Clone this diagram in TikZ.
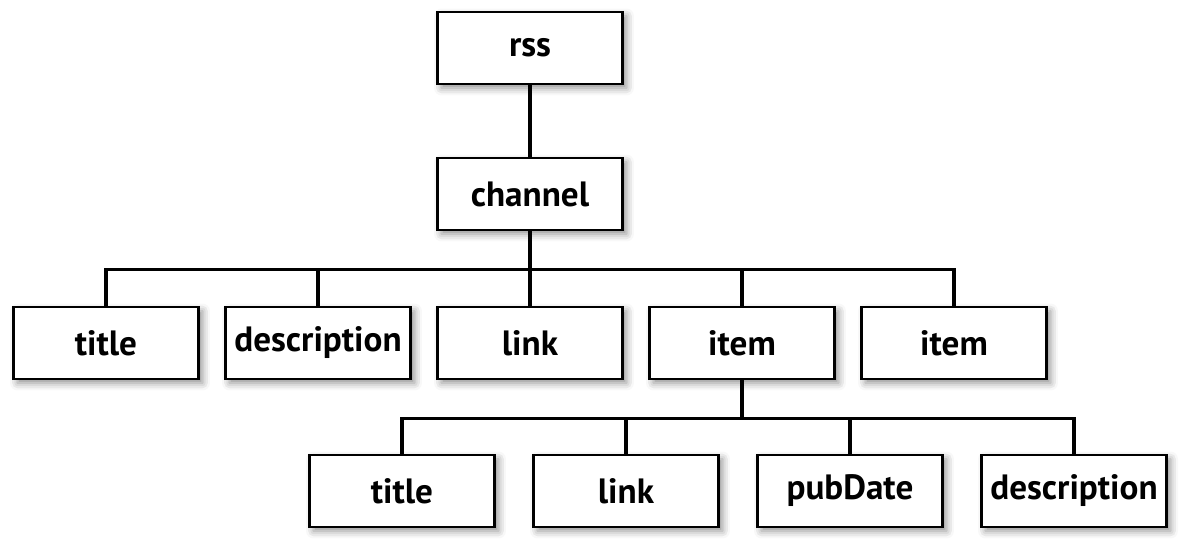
\documentclass[tikz,border=0pt]{standalone}
\usepackage{fontspec}
\setmainfont{PT Sans}
\usetikzlibrary{shadows.blur}

\tikzset{
  box/.style={draw, line width=1.6pt, fill=white, minimum width=3.7cm, minimum height=1.44cm,
    inner sep=0pt, font=\fontsize{20}{24}\selectfont\bfseries,
    blur shadow={shadow xshift=0.08cm, shadow yshift=-0.08cm, shadow blur radius=0.15cm, shadow opacity=45}},
  link/.style={line width=1.8pt}
}

\begin{document}
\begin{tikzpicture}[x=0.02cm,y=-0.02cm]

\useasboundingbox (0,0) rectangle (1181,543);

\node [box] (rss) at (530,48) {rss};
\node [box] (channel) at (530,194) {channel};

\node [box] (title) at (106,343) {title};
\node [box] (desc) at (318,343) {description};
\node [box] (link) at (530,343) {link};
\node [box] (item) at (742,343) {item};
\node [box] (item2) at (954,343) {item};

\node [box] (ititle) at (402,491) {title};
\node [box] (ilink) at (626,491) {link};
\node [box] (idate) at (850,491) {pubDate};
\node [box] (idesc) at (1074,491) {description};

\draw [link] (rss) -- (channel);

\foreach \n in {title,desc,link,item,item2}
  \draw [link] (channel.south) -- ++(0,38) -| (\n.north);

\foreach \n in {ititle,ilink,idate,idesc}
  \draw [link] (item.south) -- ++(0,38) -| (\n.north);

\end{tikzpicture}
\end{document}
